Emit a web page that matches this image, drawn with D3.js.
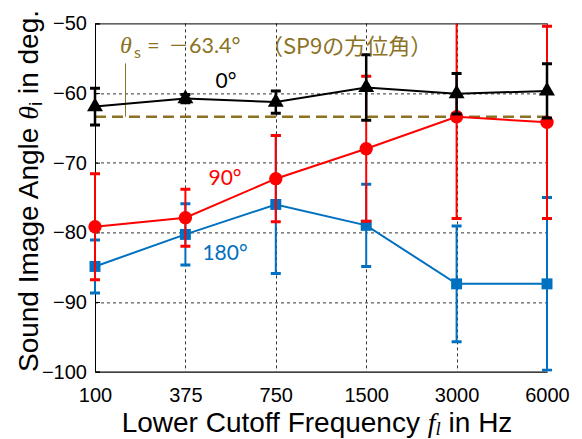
<!DOCTYPE html>
<html>
<head>
<meta charset="utf-8">
<script src="https://cdn.jsdelivr.net/npm/d3@7"></script>
<style>
  html, body { margin: 0; padding: 0; background: #fff; }
  svg { display: block; }
</style>
</head>
<body>
<div id="chart"></div>
<script>
// ---- data ----
const freqs = ["100", "375", "750", "1500", "3000", "6000"];
const yTicks = [-50, -60, -70, -80, -90, -100];

const mean0 = [-61.95, -60.8, -61.3, -59.2, -60.1, -59.7];
const err0 = [2.65, 0.6, 1.6, 4.7, 2.9, 3.9];
const mean90 = [-79.2, -77.9, -72.3, -68.0, -63.4, -64.2];
const err90 = [7.6, 4.1, 6.2, 10.4, 14.6, 13.8];
const mean180 = [-84.9, -80.3, -76.0, -79.0, -87.4, -87.4];
const err180 = [3.8, 4.4, 9.9, 5.9, 8.3, 12.4];
const thetaS = -63.4;

const W = 582, H = 439;
const margin = { top: 23.4, right: 35, bottom: 67.4, left: 95 };
const iw = W - margin.left - margin.right;
const ih = H - margin.top - margin.bottom;

const x = d3.scalePoint().domain(freqs).range([0, iw]);
const y = d3.scaleLinear().domain([-100, -50]).range([ih, 0]);

const svg = d3.select("#chart").append("svg")
  .attr("width", W).attr("height", H);

svg.append("defs").append("clipPath").attr("id", "plot-clip")
  .append("rect").attr("x", -10).attr("y", 0).attr("width", iw + 20).attr("height", ih);

const g = svg.append("g").attr("transform", `translate(${margin.left},${margin.top})`);

// ---- grid ----
const grid = g.append("g").attr("stroke", "#333").attr("stroke-width", 1)
  .attr("stroke-dasharray", "3,3");
yTicks.filter(v => v > -100 && v < -50).forEach(v => {
  grid.append("line").attr("x1", 0).attr("x2", iw)
    .attr("y1", Math.round(y(v)) + 0.5).attr("y2", Math.round(y(v)) + 0.5);
});
freqs.slice(1).forEach(f => {
  grid.append("line").attr("y1", 0).attr("y2", ih)
    .attr("x1", Math.round(x(f)) + 0.5).attr("x2", Math.round(x(f)) + 0.5);
});

// ---- box / axes ----
g.append("line").attr("x1", 0).attr("x2", iw).attr("y1", 0.5).attr("y2", 0.5)
  .attr("stroke", "#000").attr("stroke-width", 1);

const yAxis = g.append("g")
  .call(d3.axisLeft(y).tickValues(yTicks).tickSize(-5).tickPadding(8).tickFormat(d3.format("d")));
yAxis.select(".domain").attr("stroke", "#000");
yAxis.selectAll(".tick line").attr("stroke", "#000");
yAxis.selectAll("text").attr("font-family", "'Liberation Sans', Arial, sans-serif")
  .attr("font-size", 20).attr("fill", "#000");

const xAxis = g.append("g").attr("transform", `translate(0,${ih})`)
  .call(d3.axisBottom(x).tickSize(0).tickPadding(16));
xAxis.select(".domain").attr("stroke", "#000").attr("stroke-width", 1.2);
xAxis.selectAll("text").attr("font-family", "'Liberation Sans', Arial, sans-serif")
  .attr("font-size", 20).attr("fill", "#000");

// ---- theta_s reference ----
const gold = "#8b7224";
g.append("line").attr("x1", 0).attr("x2", iw)
  .attr("y1", y(thetaS)).attr("y2", y(thetaS))
  .attr("stroke", gold).attr("stroke-width", 2.5).attr("stroke-dasharray", "11,6");
g.append("line").attr("x1", 30.5).attr("x2", 30.5)
  .attr("y1", 40).attr("y2", y(thetaS))
  .attr("stroke", gold).attr("stroke-width", 1);

const ann = svg.append("g").attr("fill", gold);
ann.append("text").attr("x", 120).attr("y", 53)
  .attr("font-family", "'Liberation Serif', serif").attr("font-style", "italic")
  .attr("font-size", 24).text("θ");
ann.append("text").attr("x", 134).attr("y", 58)
  .attr("font-family", "Lato, sans-serif").attr("font-size", 16).text("s");
ann.append("text").attr("x", 147).attr("y", 53)
  .attr("font-family", "Lato, sans-serif").attr("font-size", 22).text("=");
ann.append("text").attr("x", 178.5).attr("y", 53).attr("text-anchor", "middle")
  .attr("font-family", "'Noto Sans CJK JP', sans-serif").attr("font-size", 20).text("－");
ann.append("text").attr("x", 189).attr("y", 53)
  .attr("font-family", "Lato, sans-serif").attr("font-size", 21.5).text("63.4°");
ann.append("text").attr("x", 261).attr("y", 54)
  .attr("font-family", "'Noto Sans CJK JP', sans-serif").attr("font-size", 22)
  .text("（SP9の方位角）");

// ---- series ----
const series = [
  { name: "180°", mean: mean180, err: err180, color: "#0070c0", symbol: d3.symbolSquare, size: 120,
    lx: 225, ly: 260 },
  { name: "90°", mean: mean90, err: err90, color: "#ff0000", symbol: d3.symbolCircle, size: 140,
    lx: 225, ly: 185 },
  { name: "0°", mean: mean0, err: err0, color: "#000000", symbol: d3.symbolTriangle, size: 110,
    lx: 226, ly: 88 }
];

const line = d3.line().x((d, i) => x(freqs[i])).y(d => y(d));

series.forEach(s => {
  const sg = g.append("g");
  sg.append("path").attr("d", line(s.mean)).attr("fill", "none")
    .attr("stroke", s.color).attr("stroke-width", 2);

  const eg = sg.append("g").attr("clip-path", "url(#plot-clip)")
    .attr("stroke", s.color);
  s.mean.forEach((m, i) => {
    const cx = x(freqs[i]);
    const top = y(m + s.err[i]), bot = y(m - s.err[i]);
    eg.append("line").attr("x1", cx).attr("x2", cx).attr("y1", top).attr("y2", bot)
      .attr("stroke-width", s.color === "#000000" ? 2.5 : 2);
    [top, bot].forEach(yy => {
      eg.append("line").attr("x1", cx - 5).attr("x2", cx + 5).attr("y1", yy).attr("y2", yy)
        .attr("stroke-width", 3);
    });
  });

  sg.selectAll("path.marker").data(s.mean).join("path")
    .attr("class", "marker")
    .attr("transform", (d, i) => `translate(${x(freqs[i])},${y(d)})`)
    .attr("d", d3.symbol().type(s.symbol).size(s.size))
    .attr("fill", s.color);

  svg.append("text").attr("x", s.lx).attr("y", s.ly).attr("text-anchor", "middle")
    .attr("font-family", "Lato, sans-serif").attr("font-size", 21).attr("fill", s.color)
    .text(s.name);
});

// ---- axis titles ----
const xt = svg.append("text").attr("x", 317).attr("y", 432).attr("text-anchor", "middle")
  .attr("font-family", "'Liberation Sans', Arial, sans-serif").attr("font-size", 28).attr("fill", "#000");
xt.append("tspan").text("Lower Cutoff Frequency ");
xt.append("tspan").attr("font-family", "'Liberation Serif', serif").attr("font-style", "italic").text("f");
xt.append("tspan").attr("font-family", "'Liberation Serif', serif").attr("font-style", "italic")
  .attr("font-size", 19).attr("dy", 3).text("l");
xt.append("tspan").attr("dy", -3).text(" in Hz");

const yt = svg.append("text").attr("transform", "translate(38,191) rotate(-90)")
  .attr("text-anchor", "middle")
  .attr("font-family", "'Liberation Sans', Arial, sans-serif").attr("font-size", 28).attr("fill", "#000");
yt.append("tspan").text("Sound Image Angle ");
yt.append("tspan").attr("font-family", "'Liberation Serif', serif").attr("font-style", "italic").text("θ");
yt.append("tspan").attr("font-size", 19).attr("dy", 4).text("i");
yt.append("tspan").attr("dy", -4).text(" in deg.");
</script>
</body>
</html>
